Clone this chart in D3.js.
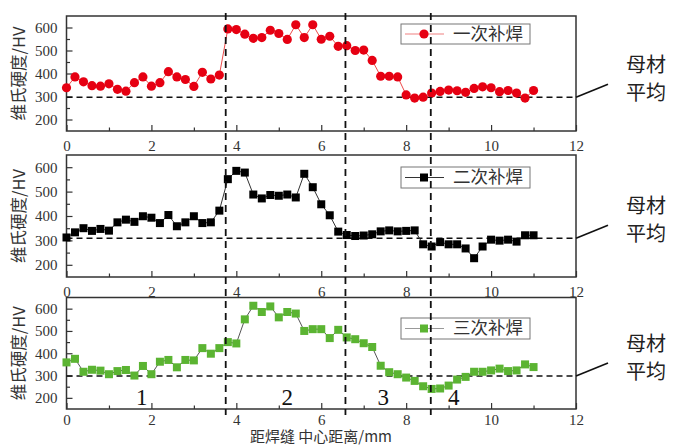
<!DOCTYPE html>
<html>
<head>
<meta charset="utf-8">
<script src="https://cdn.jsdelivr.net/npm/d3@7"></script>
<style>
  body { margin: 0; background: #fff; }
  svg { display: block; }
</style>
</head>
<body>
<div id="chart"></div>
<script>
// distance from weld centre (mm)
var distance = [0, 0.2, 0.4, 0.6, 0.8, 1.0, 1.2, 1.4, 1.6, 1.8, 2.0, 2.2, 2.4, 2.6, 2.8, 3.0,
  3.2, 3.4, 3.6, 3.8, 4.0, 4.2, 4.4, 4.6, 4.8, 5.0, 5.2, 5.4, 5.6, 5.8, 6.0, 6.2, 6.4,
  6.6, 6.8, 7.0, 7.2, 7.4, 7.6, 7.8, 8.0, 8.2, 8.4, 8.6, 8.8, 9.0, 9.2, 9.4, 9.6, 9.8,
  10.0, 10.2, 10.4, 10.6, 10.8, 11.0];

// Vickers hardness (HV) per repair count
var hv1 = [338, 385, 364, 347, 345, 355, 331, 323, 360, 385, 345, 360, 408, 385, 374, 344,
  405, 376, 393, 594, 591, 571, 553, 556, 588, 574, 548, 612, 556, 612, 549, 562, 518,
  521, 500, 502, 457, 388, 388, 385, 307, 293, 297, 315, 322, 328, 325, 318, 335, 342,
  338, 321, 326, 315, 293, 326];
var hv2 = [312, 333, 350, 339, 347, 340, 374, 385, 376, 399, 393, 371, 404, 358, 374, 399,
  371, 374, 422, 551, 585, 578, 488, 472, 486, 483, 488, 476, 573, 518, 448, 403, 336,
  322, 318, 320, 325, 337, 341, 337, 339, 341, 284, 275, 293, 284, 284, 267, 227, 275,
  303, 299, 303, 295, 321, 321];
var hv3 = [359, 375, 317, 326, 322, 306, 320, 325, 300, 343, 306, 362, 370, 337, 370, 368,
  423, 398, 423, 450, 444, 552, 613, 585, 610, 561, 585, 578, 500, 508, 508, 468, 505,
  471, 463, 445, 428, 344, 315, 306, 291, 276, 252, 240, 242, 255, 282, 294, 317, 317,
  323, 331, 320, 323, 350, 338];

var seriesNames = ["一次补焊", "二次补焊", "三次补焊"];
var baseAvg = [297, 309, 298];          // 母材平均
var zoneBounds = [3.75, 6.57, 8.58];    // zone boundaries (mm)
var zoneLabels = ["1", "2", "3", "4"];
var zoneLabelX = [1.77, 5.2, 7.46, 9.12];
var xTicks = [0, 2, 4, 6, 8, 10, 12];
var yTicks = [200, 300, 400, 500, 600];

var W = 678, H = 445;
var left = 66.5, right = 576;

// layout of the three stacked panels
var panels = [
  {top: 16, bottom: 131, legY: 24, legH: 20, data: hv1, color: "#e60012", line: "#ee4a4a", legLine: "#f08080", shape: "circle"},
  {top: 155, bottom: 277, legY: 167, legH: 21, data: hv2, color: "#000", line: "#333", legLine: "#333", shape: "square"},
  {top: 297.5, bottom: 409, legY: 318, legH: 21, data: hv3, color: "#5bb432", line: "#555", legLine: "#999", shape: "square"}
];

var svg = d3.select("#chart").append("svg")
  .attr("width", W).attr("height", H);
svg.append("rect").attr("width", W).attr("height", H).attr("fill", "#fff");

var x = d3.scaleLinear().domain([0, 12]).range([left, right]);

var numFont = "'Liberation Serif', 'Times New Roman', serif";
var cjkFont = "'Noto Sans CJK SC', sans-serif";

panels.forEach(function(p, i) {
  var y = d3.scaleLinear().domain([150, 650]).range([p.bottom, p.top]);
  var g = svg.append("g");

  // axes: ticks pointing inward
  g.append("g").attr("transform", `translate(0,${p.bottom})`)
    .call(d3.axisBottom(x).tickValues(xTicks).tickSizeInner(-6).tickSizeOuter(0).tickPadding(i === 2 ? 5 : 9));
  g.append("g").attr("transform", `translate(0,${p.bottom})`)
    .call(d3.axisBottom(x).tickValues([1, 3, 5, 7, 9, 11]).tickSizeInner(-3.5).tickSizeOuter(0).tickFormat(""));
  g.append("g").attr("transform", `translate(${left},0)`)
    .call(d3.axisLeft(y).tickValues(yTicks).tickSizeInner(-6).tickSizeOuter(0).tickPadding(9));
  g.append("g").attr("transform", `translate(${left},0)`)
    .call(d3.axisLeft(y).tickValues([250, 350, 450, 550]).tickSizeInner(-3.5).tickSizeOuter(0).tickFormat(""));
  g.selectAll(".domain").remove();
  g.selectAll(".tick line").attr("stroke", "#333").attr("stroke-width", 1.2);
  g.selectAll(".tick text").attr("font-family", numFont).attr("font-size", 15).attr("fill", "#333");

  // frame
  g.append("rect")
    .attr("x", left).attr("y", p.top)
    .attr("width", right - left).attr("height", p.bottom - p.top)
    .attr("fill", "none").attr("stroke", "#333").attr("stroke-width", 1.5);

  // y title
  g.append("text")
    .attr("transform", `translate(21,${(p.top + p.bottom) / 2}) rotate(-90)`)
    .attr("text-anchor", "middle").attr("dominant-baseline", "middle")
    .attr("font-family", cjkFont).attr("font-size", 16.5).attr("fill", "#333")
    .text("维氏硬度/HV");

  // base metal average line
  g.append("line")
    .attr("x1", x(0)).attr("x2", x(12))
    .attr("y1", y(baseAvg[i])).attr("y2", y(baseAvg[i]))
    .attr("stroke", "#111").attr("stroke-width", 1.6).attr("stroke-dasharray", "6,4");
  g.append("line")
    .attr("x1", x(12)).attr("y1", y(baseAvg[i]))
    .attr("x2", x(12) + 32).attr("y2", y(baseAvg[i]) - 13)
    .attr("stroke", "#111").attr("stroke-width", 1.6);
  g.append("text")
    .attr("x", 626).attr("y", y(baseAvg[i]) - 25)
    .attr("font-family", cjkFont).attr("font-size", 20).attr("fill", "#222")
    .text("母材");
  g.append("text")
    .attr("x", 626).attr("y", y(baseAvg[i]) + 3)
    .attr("font-family", cjkFont).attr("font-size", 20).attr("fill", "#222")
    .text("平均");

  // data line + markers
  var pts = distance.map(function(d, k) { return [d, p.data[k]]; });
  g.append("path").datum(pts)
    .attr("d", d3.line().x(d => x(d[0])).y(d => y(d[1])))
    .attr("fill", "none").attr("stroke", p.line).attr("stroke-width", 1);

  if (p.shape === "circle") {
    g.selectAll(".pt").data(pts).enter().append("circle")
      .attr("cx", d => x(d[0])).attr("cy", d => y(d[1]))
      .attr("r", 4.6).attr("fill", p.color);
  } else {
    g.selectAll(".pt").data(pts).enter().append("rect")
      .attr("x", d => x(d[0]) - 4).attr("y", d => y(d[1]) - 4)
      .attr("width", 8).attr("height", 8).attr("fill", p.color);
  }

  // legend
  var lx = 401, lw = 129;
  var leg = g.append("g");
  leg.append("rect").attr("x", lx).attr("y", p.legY).attr("width", lw).attr("height", p.legH)
    .attr("fill", "#fff").attr("stroke", "#777").attr("stroke-width", 1);
  var ly = p.legY + p.legH / 2;
  leg.append("line").attr("x1", lx + 4).attr("x2", lx + 43).attr("y1", ly).attr("y2", ly)
    .attr("stroke", p.legLine).attr("stroke-width", 1.2);
  if (p.shape === "circle") {
    leg.append("circle").attr("cx", lx + 23).attr("cy", ly).attr("r", 4.6).attr("fill", p.color);
  } else {
    leg.append("rect").attr("x", lx + 19).attr("y", ly - 4).attr("width", 8).attr("height", 8).attr("fill", p.color);
  }
  leg.append("text").attr("x", lx + 52).attr("y", ly + 1)
    .attr("dominant-baseline", "middle")
    .attr("font-family", cjkFont).attr("font-size", 17.5).attr("fill", "#333")
    .text(seriesNames[i]);
});

// zone numbers in the bottom panel
var yb = d3.scaleLinear().domain([150, 650]).range([panels[2].bottom, panels[2].top]);
svg.selectAll(".zone").data(zoneLabels).enter().append("text")
  .attr("x", (d, k) => x(zoneLabelX[k]))
  .attr("y", yb(200) + 7)
  .attr("text-anchor", "middle")
  .attr("font-family", numFont).attr("font-size", 23).attr("fill", "#111")
  .text(d => d);

// vertical zone boundaries across all panels
svg.selectAll(".bound").data(zoneBounds).enter().append("line")
  .attr("x1", d => x(d)).attr("x2", d => x(d))
  .attr("y1", 13).attr("y2", 415)
  .attr("stroke", "#111").attr("stroke-width", 1.8).attr("stroke-dasharray", "7,5");

// x title
svg.append("text")
  .attr("x", 321).attr("y", 442)
  .attr("text-anchor", "middle")
  .attr("font-family", cjkFont).attr("font-size", 15).attr("fill", "#333")
  .text("距焊缝 中心距离/mm");
</script>
</body>
</html>
